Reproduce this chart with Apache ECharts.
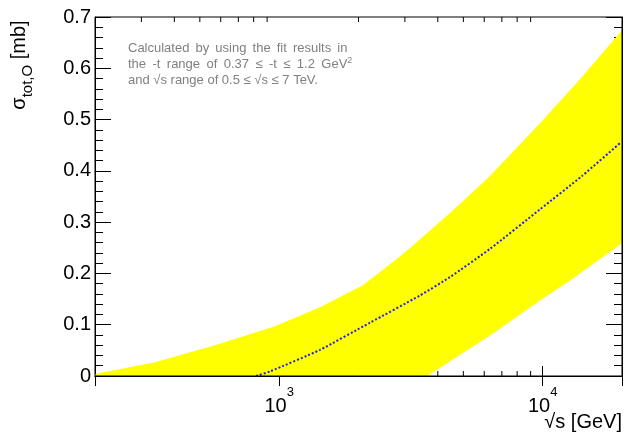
<!DOCTYPE html>
<html>
<head>
<meta charset="utf-8">
<script src="https://cdn.jsdelivr.net/npm/echarts@6/dist/echarts.min.js"></script>
<style>
  html, body { margin: 0; padding: 0; background: #fff; }
  #chart { width: 624px; height: 440px; }
</style>
</head>
<body>
<div id="chart"></div>
<script>
// band edges and central curve, sqrt(s) in GeV vs sigma in mb
const upperX = [200, 338, 571, 964, 1428, 2080, 2951, 4450, 6311, 9768, 14100, 20000];
const upperY = [0.004, 0.027, 0.060, 0.097, 0.134, 0.177, 0.238, 0.318, 0.390, 0.493, 0.583, 0.674];
const lowerX = [3640, 4450, 6311, 9768, 13030, 20000];
const lowerY = [0, 0.029, 0.079, 0.147, 0.190, 0.259];
const centralX = [817, 923, 1428, 2212, 3422, 4450, 6311, 9768, 14100, 19650];
const centralY = [0, 0.009, 0.051, 0.104, 0.157, 0.193, 0.248, 0.325, 0.390, 0.454];
const minorTickVals = [300, 400, 500, 600, 700, 800, 900, 2000, 3000, 4000, 5000, 6000, 7000, 8000, 9000];

const noteLines = [
  'Calculated by using the fit results in',
  'the -t range of 0.37 ≤ -t ≤ 1.2 GeV{sup|2}',
  'and √s range of 0.5 ≤ √s ≤ 7 TeV.'
];

const FONT = '"Liberation Sans", Arial, Helvetica, sans-serif';

const chart = echarts.init(document.getElementById('chart'), null, { renderer: 'canvas' });

function renderBand(params, api) {
  const pts = [];
  for (let i = 0; i < upperX.length; i++) pts.push(api.coord([upperX[i], upperY[i]]));
  for (let i = lowerX.length - 1; i >= 0; i--) pts.push(api.coord([lowerX[i], lowerY[i]]));
  pts.push(api.coord([upperX[0], 0]));
  return { type: 'polygon', shape: { points: pts }, style: { fill: '#ffff00' } };
}

function renderMinorTick(params, api) {
  const v = api.value(0);
  const b = api.coord([v, 0]);
  const t = api.coord([v, 0.7]);
  const st = { stroke: '#000', lineWidth: 1 };
  return {
    type: 'group',
    children: [
      { type: 'line', shape: { x1: b[0], y1: b[1], x2: b[0], y2: b[1] - 5 }, style: st },
      { type: 'line', shape: { x1: t[0], y1: t[1], x2: t[0], y2: t[1] + 5 }, style: st }
    ]
  };
}

// ROOT justifies the first lines of the note, so widen their spaces a bit
const noteText = noteLines[0].split(' ').join('{s1| }') + '\n' +
  noteLines[1].split(' ').join('{s2| }') + '\n' +
  noteLines[2];

const xBase = {
  type: 'log',
  min: 200,
  max: 20000,
  logBase: 10,
  splitLine: { show: false },
  axisLine: { lineStyle: { color: '#000', width: 1 } },
  axisTick: { inside: true, length: 10, lineStyle: { color: '#000' } }
};

const yBase = {
  type: 'value',
  min: 0,
  max: 0.7,
  interval: 0.1,
  splitLine: { show: false },
  axisLine: { show: true, lineStyle: { color: '#000', width: 1 } },
  axisTick: { inside: true, length: 16, lineStyle: { color: '#000' } },
  minorTick: { show: true, splitNumber: 5, length: 8, lineStyle: { color: '#000' } },
  minorSplitLine: { show: false }
};

chart.setOption({
  animation: false,
  backgroundColor: '#fff',
  textStyle: { fontFamily: FONT },
  grid: {
    left: 95, right: 2, top: 17, bottom: 64,
    containLabel: false,
    outerBoundsMode: 'none',
    show: true,
    z: 10,
    borderColor: '#000',
    borderWidth: 1,
    backgroundColor: 'transparent'
  },
  xAxis: [
    Object.assign({}, xBase, {
      position: 'bottom',
      axisLabel: {
        showMinLabel: false,
        showMaxLabel: false,
        margin: 10,
        color: '#000',
        formatter: v => '{b|10}{s|' + Math.round(Math.log10(v)) + '}',
        rich: {
          b: { fontSize: 20, fontFamily: FONT, color: '#000', lineHeight: 30, verticalAlign: 'bottom' },
          s: { fontSize: 13, fontFamily: FONT, color: '#000', lineHeight: 10, verticalAlign: 'top' }
        }
      }
    }),
    Object.assign({}, xBase, { position: 'top', axisLabel: { show: false } })
  ],
  yAxis: [
    Object.assign({}, yBase, {
      position: 'left',
      axisLabel: {
        margin: 4,
        color: '#000',
        fontSize: 20,
        fontFamily: FONT,
        formatter: v => (v === 0 ? '0' : v.toFixed(1))
      }
    }),
    Object.assign({}, yBase, { position: 'right', axisLabel: { show: false } })
  ],
  graphic: [
    {
      type: 'text',
      left: 128,
      top: 40,
      silent: true,
      style: {
        text: noteText,
        fill: '#808080',
        font: '13px ' + FONT,
        lineHeight: 16,
        rich: {
          s1: { width: 6.1, fontSize: 13, lineHeight: 16 },
          s2: { width: 6.4, fontSize: 13, lineHeight: 16 },
          sup: { fontSize: 9, fill: '#808080', lineHeight: 6, verticalAlign: 'top' }
        }
      }
    },
    {
      type: 'text',
      right: 2,
      top: 412,
      silent: true,
      style: { text: '√s [GeV]', fill: '#000', font: '20px ' + FONT }
    },
    {
      type: 'text',
      x: 22,
      y: 65,
      rotation: Math.PI / 2,
      silent: true,
      style: {
        text: '{m|σ}{sub|tot,O}{m| [mb]}',
        align: 'center',
        verticalAlign: 'middle',
        rich: {
          m: { fontSize: 20, fontFamily: FONT, fill: '#000', lineHeight: 26, verticalAlign: 'top' },
          sub: { fontSize: 15, fontFamily: FONT, fill: '#000', lineHeight: 14, verticalAlign: 'bottom' }
        }
      }
    }
  ],
  series: [
    {
      name: 'minor ticks',
      type: 'custom',
      coordinateSystem: 'cartesian2d',
      xAxisIndex: 0,
      yAxisIndex: 0,
      z: 1,
      silent: true,
      clip: false,
      renderItem: renderMinorTick,
      data: minorTickVals.map(v => [v, 0])
    },
    {
      name: 'band',
      type: 'custom',
      coordinateSystem: 'cartesian2d',
      xAxisIndex: 0,
      yAxisIndex: 0,
      z: 2,
      silent: true,
      renderItem: renderBand,
      data: [[upperX[0], upperY[0]]]
    },
    {
      name: 'central',
      type: 'line',
      xAxisIndex: 0,
      yAxisIndex: 0,
      z: 3,
      symbol: 'none',
      smooth: 0.2,
      silent: true,
      lineStyle: { color: '#2222dd', width: 2, type: [2, 2] },
      data: centralX.map((x, i) => [x, centralY[i]])
    }
  ]
});
</script>
</body>
</html>
